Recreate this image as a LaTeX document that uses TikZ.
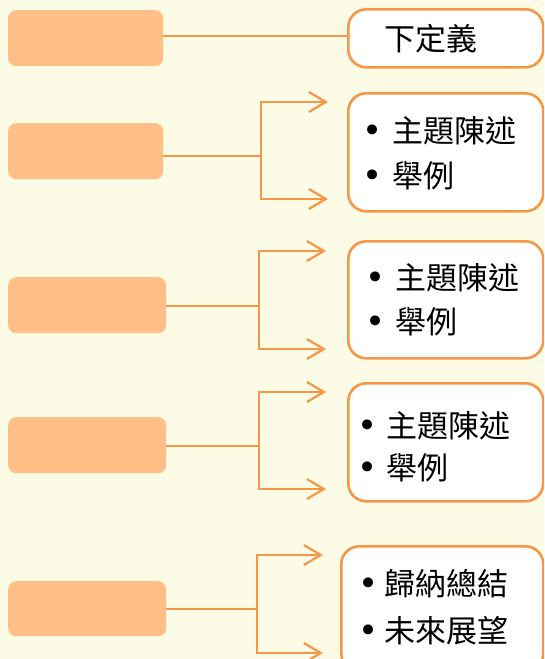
\documentclass[tikz,border=0pt]{standalone}
\usepackage{fontspec}
\newfontfamily\cjk{Noto Sans CJK TC}
\newfontfamily\bulfont{DejaVu Sans}
\usetikzlibrary{arrows.meta}
\definecolor{bgcol}{HTML}{FCFBE6}
\definecolor{leftfill}{HTML}{FFBF87}
\definecolor{orng}{HTML}{F79646}
\tikzset{
  leftbox/.style={fill=leftfill, draw=none, rounded corners=8pt, anchor=north west, inner sep=0pt},
  rightbox/.style={fill=white, draw=orng, line width=2.6pt, rounded corners=18pt, anchor=north west, inner sep=0pt},
  conn/.style={draw=orng, line width=2.2pt},
  arr/.style={conn, -{Straight Barb[length=17pt,width=20pt]}},
  txt/.style={anchor=base west, inner sep=0pt, font=\cjk\fontsize{31}{31}\selectfont, text=black},
  bul/.style={anchor=base, inner sep=0pt, font=\bulfont\fontsize{34}{34}\selectfont, text=black}
}
\begin{document}
\begin{tikzpicture}[x=1pt,y=-1pt]
\useasboundingbox (0,0) rectangle (544,659);
\clip (0,0) rectangle (544,659);
\fill[bgcol] (0,0) rectangle (544,659);
% left boxes
\node[leftbox, minimum width=155pt, minimum height=56pt] (L1) at (8,10) {};
\node[leftbox, minimum width=155pt, minimum height=56pt] (L2) at (8,123) {};
\node[leftbox, minimum width=158pt, minimum height=56pt] (L3) at (8,277) {};
\node[leftbox, minimum width=158pt, minimum height=56pt] (L4) at (8,417) {};
\node[leftbox, minimum width=158pt, minimum height=55pt] (L5) at (8,581) {};
% right boxes
\node[rightbox, minimum width=195pt, minimum height=58pt] (R1) at (347,8) {};
\node[rightbox, minimum width=195pt, minimum height=118pt] (R2) at (347,92) {};
\node[rightbox, minimum width=195pt, minimum height=117pt] (R3) at (347,240) {};
\node[rightbox, minimum width=195pt, minimum height=118pt] (R4) at (347,382) {};
\node[rightbox, minimum width=202pt, minimum height=125pt] (R5) at (340,545) {};
% texts
\node[txt] (t1) at (384,50) {下定義};
\node[bul] (b2a) at (373,142) {•}; \node[txt] (t2a) at (392,142) {主題陳述};
\node[bul] (b2b) at (373,187) {•}; \node[txt] (t2b) at (392,187) {舉例};
\node[bul] (b3a) at (376,289) {•}; \node[txt] (t3a) at (395,289) {主題陳述};
\node[bul] (b3b) at (376,333) {•}; \node[txt] (t3b) at (395,333) {舉例};
\node[bul] (b4a) at (368,437) {•}; \node[txt] (t4a) at (386,437) {主題陳述};
\node[bul] (b4b) at (368,479) {•}; \node[txt] (t4b) at (386,479) {舉例};
\node[bul] (b5a) at (369,595) {•}; \node[txt] (t5a) at (384,595) {歸納總結};
\node[bul] (b5b) at (369,642) {•}; \node[txt] (t5b) at (384,642) {未來展望};
% junctions and tips
\coordinate (J2) at (261,156); \coordinate (A2t) at (328,102); \coordinate (A2b) at (328,199);
\coordinate (J3) at (259,306); \coordinate (A3t) at (326,251); \coordinate (A3b) at (326,349);
\coordinate (J4) at (259,446); \coordinate (A4t) at (326,392); \coordinate (A4b) at (326,489);
\coordinate (J5) at (257,609); \coordinate (A5t) at (323,555); \coordinate (A5b) at (323,653);
% connectors
\draw[conn] (L1.east |- 0,36) -- (R1.west |- 0,36);
\draw[conn] (L2.east |- J2) -- (J2);
\draw[arr] (J2) |- (A2t); \draw[arr] (J2) |- (A2b);
\draw[conn] (L3.east |- J3) -- (J3);
\draw[arr] (J3) |- (A3t); \draw[arr] (J3) |- (A3b);
\draw[conn] (L4.east |- J4) -- (J4);
\draw[arr] (J4) |- (A4t); \draw[arr] (J4) |- (A4b);
\draw[conn] (L5.east |- J5) -- (J5);
\draw[arr] (J5) |- (A5t); \draw[arr] (J5) |- (A5b);
\end{tikzpicture}
\end{document}
